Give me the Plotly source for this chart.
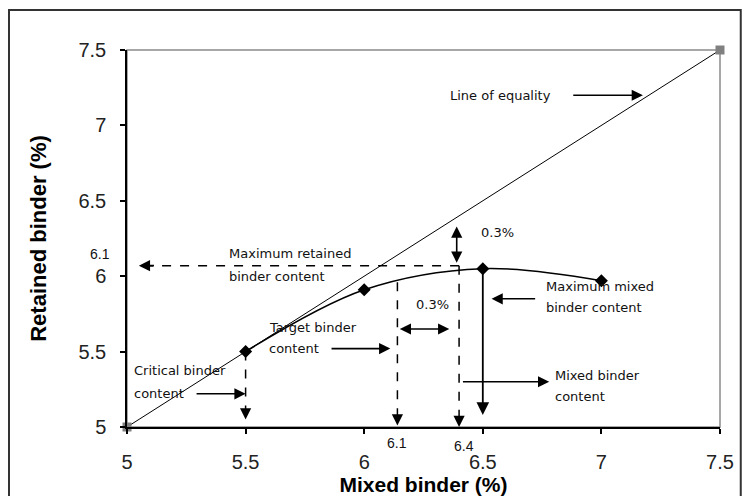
import plotly.graph_objects as go

# Line of equality (end points) and the retained-binder curve
equality_x = [5, 7.5]
equality_y = [5, 7.5]
mixed_binder = [5.5, 6.0, 6.5, 7.0]
retained_binder = [5.5, 5.91, 6.05, 5.97]

# Key binder contents marked on the chart
critical_binder = 5.5
target_binder = 6.14       # labelled 6.1
mixed_binder_opt = 6.4     # labelled 6.4
max_mixed_binder = 6.5
max_retained = 6.07        # labelled 6.1
target_curve_y = 5.96

tick_vals = [5, 5.5, 6, 6.5, 7, 7.5]

TEXT_FONT = dict(family="DejaVu Sans", size=13, color="#111")
SMALL_FONT = dict(family="Liberation Sans, Arial", size=14, color="#111")


def arrow(x, y, ax, ay, both=False, width=1.6):
    return dict(
        x=x, y=y, ax=ax, ay=ay,
        xref="x", yref="y", axref="x", ayref="y",
        text="", showarrow=True, arrowhead=2, arrowsize=1.4,
        arrowwidth=width, arrowcolor="black",
        arrowside="end+start" if both else "end",
    )


def label(x, y, text, font=TEXT_FONT, anchor="left"):
    return dict(x=x, y=y, xref="x", yref="y", text=text, showarrow=False,
                xanchor=anchor, yanchor="middle", font=font)


def dashed(x0, y0, x1, y1):
    return dict(type="line", xref="x", yref="y", x0=x0, y0=y0, x1=x1, y1=y1,
                line=dict(color="black", width=1.5, dash="dash"))


fig = go.Figure()

fig.add_trace(go.Scatter(
    x=equality_x, y=equality_y, mode="lines+markers",
    line=dict(color="black", width=1),
    marker=dict(symbol="square", size=9, color="#808080"),
    cliponaxis=False, showlegend=False,
))
fig.add_trace(go.Scatter(
    x=mixed_binder, y=retained_binder, mode="lines+markers",
    line=dict(color="black", width=1.5, shape="spline", smoothing=1),
    marker=dict(symbol="diamond", size=10, color="black"),
    cliponaxis=False, showlegend=False,
))

shapes = [
    # outer picture frame
    dict(type="rect", xref="paper", yref="paper", x0=-0.199, x1=1.035,
         y0=-0.25, y1=1.106, line=dict(color="#333", width=2)),
    # plot area border (top / right)
    dict(type="rect", xref="paper", yref="paper", x0=0, x1=1, y0=0, y1=1,
         line=dict(color="#8a8a8a", width=1.5), layer="below"),
    dashed(mixed_binder_opt, max_retained, 5.08, max_retained),
    dashed(critical_binder, critical_binder, critical_binder, 5.1),
    dashed(target_binder, target_curve_y, target_binder, 5.06),
    dashed(mixed_binder_opt, max_retained, mixed_binder_opt, 5.06),
]

annotations = [
    # arrow heads on dashed lines
    arrow(5.05, max_retained, 5.12, max_retained),
    arrow(critical_binder, 5.05, critical_binder, 5.12),
    arrow(target_binder, 5.01, target_binder, 5.08),
    arrow(mixed_binder_opt, 5.0, mixed_binder_opt, 5.07),
    # solid arrows
    arrow(max_mixed_binder, 5.08, max_mixed_binder, 6.05, width=1.8),
    arrow(mixed_binder_opt - 0.01, 6.33, mixed_binder_opt - 0.01, 6.08, both=True),
    arrow(6.15, 5.65, 6.365, 5.65, both=True),
    arrow(7.175, 7.2, 6.875, 7.2),
    arrow(critical_binder, 5.22, 5.287, 5.22),
    arrow(6.11, 5.52, 5.856, 5.52),
    arrow(6.537, 5.85, 6.727, 5.85),
    arrow(6.78, 5.30, 6.41, 5.30),
    # text
    label(6.353, 7.197, "Line of equality"),
    label(5.42, 6.15, "Maximum retained"),
    label(5.42, 6.0, "binder content"),
    label(5.59, 5.66, "Target binder"),
    label(5.59, 5.52, "content"),
    label(5.02, 5.375, "Critical binder"),
    label(5.02, 5.22, "content"),
    label(6.76, 5.93, "Maximum mixed"),
    label(6.76, 5.79, "binder content"),
    label(6.795, 5.34, "Mixed binder"),
    label(6.795, 5.2, "content"),
    label(6.56, 6.29, "0.3%", anchor="center"),
    label(6.29, 5.81, "0.3%", anchor="center"),
    # extra value labels next to the axes
    dict(x=-0.0455, y=6.15, xref="paper", yref="y", text="6.1", showarrow=False,
         xanchor="center", yanchor="middle", font=SMALL_FONT),
    dict(x=target_binder, y=-0.042, xref="x", yref="paper", text="6.1", showarrow=False,
         xanchor="center", yanchor="middle", font=SMALL_FONT),
    dict(x=6.42, y=-0.05, xref="x", yref="paper", text="6.4", showarrow=False,
         xanchor="center", yanchor="middle", font=SMALL_FONT),
]

axis_common = dict(
    range=[5, 7.5], tickvals=tick_vals, showgrid=False, zeroline=False,
    showline=True, linecolor="black", linewidth=1.5, automargin=False,
    ticks="outside", ticklen=5, tickcolor="black", tickwidth=1.5,
    tickfont=dict(family="Liberation Sans, Arial", size=20, color="#222"),
)

# page body adds an 8px margin, so the figure is 16px smaller than the window
fig.update_layout(
    width=734, height=488,
    margin=dict(l=119, r=22, t=42, b=69),
    plot_bgcolor="white", paper_bgcolor="white",
    shapes=shapes, annotations=annotations,
    xaxis=dict(
        **axis_common,
        ticklabelstandoff=11,
        title=dict(text="<b>Mixed binder (%)</b>", standoff=8,
                   font=dict(family="Liberation Sans, Arial", size=21, color="black")),
    ),
    yaxis=dict(
        **axis_common,
        ticklabelstandoff=10,
        title=dict(text="<b>Retained binder (%)</b>", standoff=26,
                   font=dict(family="Liberation Sans, Arial", size=22, color="black")),
    ),
)

fig.write_html("out.html")
